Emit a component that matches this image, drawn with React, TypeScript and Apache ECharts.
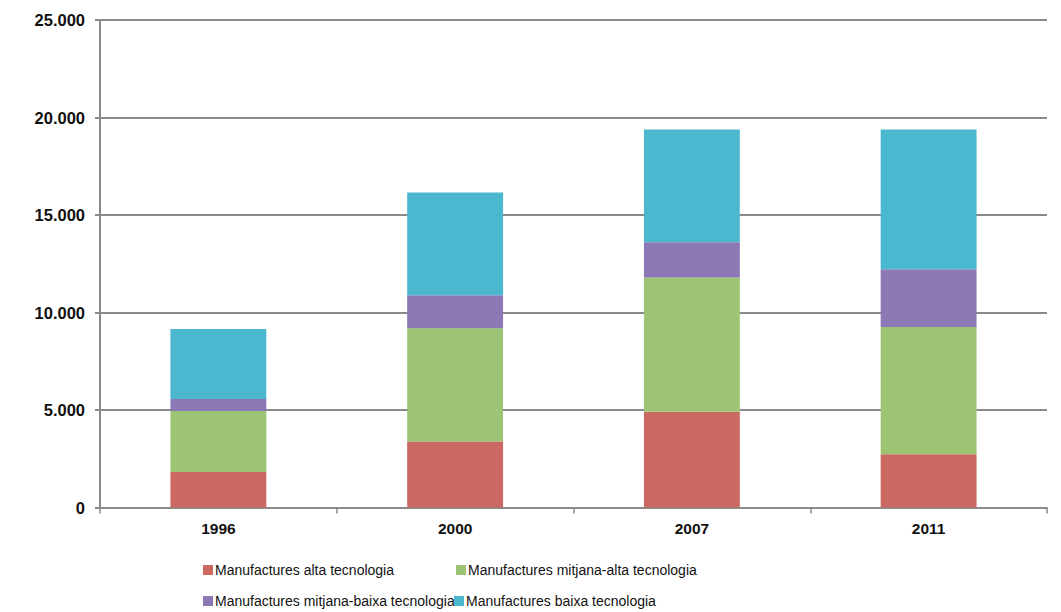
import React, { useEffect, useRef } from "react";
import * as echarts from "echarts";

const years = ["1996", "2000", "2007", "2011"];
const altaTecnologia = [1820, 3390, 4910, 2730];
const mitjanaAltaTecnologia = [3130, 5800, 6890, 6530];
const mitjanaBaixaTecnologia = [610, 1690, 1800, 2960];
const baixaTecnologia = [3590, 5280, 5790, 7170];

const seriesNames = [
  "Manufactures alta tecnologia",
  "Manufactures mitjana-alta tecnologia",
  "Manufactures mitjana-baixa tecnologia",
  "Manufactures baixa tecnologia",
];
const colors = ["#CB6861", "#9DC474", "#8B78B4", "#4BB8D0"];
const yTicks = { min: 0, max: 25000, interval: 5000 };

function fmt(v: number): string {
  return String(v).replace(/\B(?=(\d{3})+(?!\d))/g, ".");
}

export default function App() {
  const ref = useRef<HTMLDivElement>(null);
  useEffect(() => {
    document.body.style.margin = "0";
    const chart = echarts.init(ref.current!, null, { renderer: "svg" });
    const gray = "#8a8a8a";
    const dataSets = [altaTecnologia, mitjanaAltaTecnologia, mitjanaBaixaTecnologia, baixaTecnologia];
    const legendPos = [
      { left: 203, top: 563 },
      { left: 456, top: 563 },
      { left: 203, top: 594 },
      { left: 454, top: 594 },
    ];
    chart.setOption({
      animation: false,
      backgroundColor: "#ffffff",
      color: colors,
      grid: { left: 100, right: 14, top: 20, bottom: 104.5, containLabel: false },
      legend: seriesNames.map((name, i) => ({
        data: [name],
        left: legendPos[i].left,
        top: legendPos[i].top,
        itemWidth: 10,
        itemHeight: 10,
        icon: "rect",
        padding: 0,
        textStyle: {
          fontFamily: "Liberation Sans, Arial, sans-serif",
          fontSize: 14,
          color: "#111111",
          padding: [0, 0, 0, -3],
        },
      })),
      xAxis: {
        type: "category",
        data: years,
        boundaryGap: true,
        axisLine: { lineStyle: { color: gray, width: 2 } },
        axisTick: { show: true, length: 6, lineStyle: { color: gray, width: 1.5 } },
        axisLabel: {
          margin: 13,
          fontFamily: "Liberation Sans, Arial, sans-serif",
          fontSize: 15.5,
          fontWeight: "bold",
          color: "#111111",
        },
      },
      yAxis: {
        type: "value",
        min: yTicks.min,
        max: yTicks.max,
        interval: yTicks.interval,
        axisLine: { show: true, lineStyle: { color: gray, width: 2 } },
        axisTick: { show: true, length: 5, lineStyle: { color: gray, width: 2 } },
        splitLine: { show: true, lineStyle: { color: gray, width: 2 } },
        axisLabel: {
          margin: 15,
          formatter: (v: number) => fmt(v),
          fontFamily: "Liberation Sans, Arial, sans-serif",
          fontSize: 16.5,
          fontWeight: "bold",
          color: "#111111",
        },
      },
      series: seriesNames.map((name, i) => ({
        name,
        type: "bar",
        stack: "total",
        barWidth: "40.5%",
        data: dataSets[i],
        itemStyle: { color: colors[i] },
      })),
    });
    return () => chart.dispose();
  }, []);
  return (
    <div
      ref={ref}
      style={{ position: "absolute", left: 0, top: 0, width: 1061, height: 612 }}
    />
  );
}
